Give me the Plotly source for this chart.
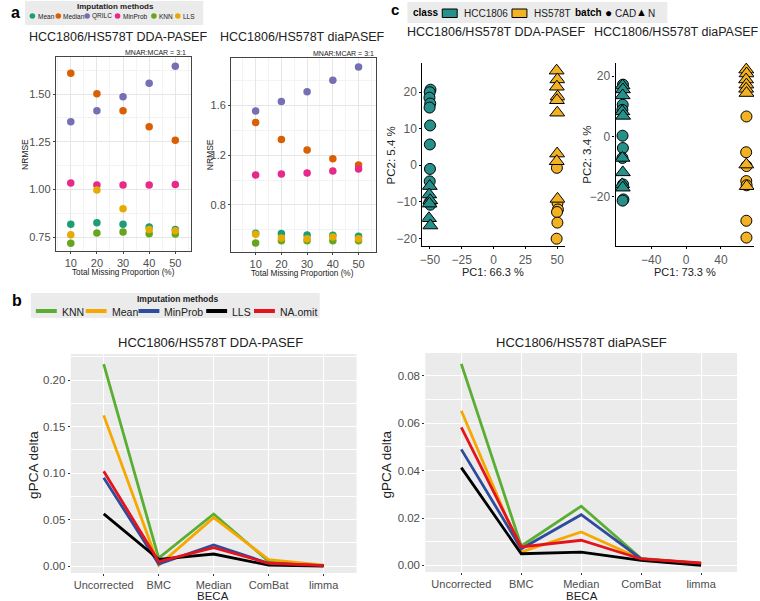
import plotly.graph_objects as go

W, H = 760, 601
FONT = "Liberation Sans, Arial, sans-serif"

# ---------------- Panel a data (NRMSE) ----------------
missing_pct = [10, 20, 30, 40, 50]
a_methods = ["Mean", "Median", "QRILC", "MinProb", "KNN", "LLS"]
a_colors = ["#1B9E77", "#D95F02", "#7570B3", "#E7298A", "#66A61E", "#E6AB02"]

dda_mean = [0.817, 0.825, 0.817, 0.803, 0.790]
dda_median = [1.609, 1.502, 1.412, 1.329, 1.258]
dda_qrilc = [1.355, 1.412, 1.486, 1.556, 1.645]
dda_minprob = [1.034, 1.023, 1.023, 1.023, 1.025]
dda_knn = [0.718, 0.771, 0.776, 0.767, 0.766]
dda_lls = [0.762, 0.997, 0.899, 0.790, 0.783]

dia_mean = [0.572, 0.570, 0.556, 0.554, 0.546]
dia_median = [1.464, 1.327, 1.241, 1.172, 1.121]
dia_qrilc = [1.557, 1.632, 1.712, 1.803, 1.910]
dia_minprob = [1.041, 1.049, 1.057, 1.073, 1.089]
dia_knn = [0.492, 0.511, 0.511, 0.511, 0.511]
dia_lls = [0.564, 0.532, 0.527, 0.540, 0.527]

# ---------------- Panel b data (gPCA delta) ----------------
becas = ["Uncorrected", "BMC", "Median", "ComBat", "limma"]
b_methods = ["KNN", "Mean", "MinProb", "LLS", "NA.omit"]
b_colors = ["#5AAE32", "#F5A800", "#2F4B9E", "#000000", "#E5131B"]

dda_gpca_knn = [0.217, 0.0085, 0.056, 0.005, 0.0005]
dda_gpca_mean = [0.162, 0.0008, 0.052, 0.007, 0.001]
dda_gpca_minprob = [0.095, 0.002, 0.0226, 0.003, 0.0005]
dda_gpca_lls = [0.056, 0.0072, 0.0129, 0.001, 0.0]
dda_gpca_naomit = [0.102, 0.0048, 0.0197, 0.003, 0.0005]

dia_gpca_knn = [0.0851, 0.0082, 0.0250, 0.0029, 0.0008]
dia_gpca_mean = [0.0653, 0.0056, 0.0141, 0.0027, 0.0008]
dia_gpca_minprob = [0.0490, 0.0070, 0.0214, 0.0027, 0.0007]
dia_gpca_lls = [0.0413, 0.0049, 0.0056, 0.0021, 0.0]
dia_gpca_naomit = [0.0583, 0.0078, 0.0106, 0.0027, 0.0010]

# ---------------- Panel c data (PCA) ----------------
class_names = ["HCC1806", "HS578T"]
class_colors = ["#26918A", "#F2B224"]
batch_names = ["CAD", "N"]

dda_hcc_cad_pc1 = [-49.6, -50.2, -50.4, -49.8, -50.3, -49.9, -50.1, -50.0, -50.2, -50.4, -49.7]
dda_hcc_cad_pc2 = [20.7, 20.0, 18.5, 16.9, 15.8, 10.9, 5.7, -1.0, -4.4, -10.2, -10.8]
dda_hcc_n_pc1 = [-50.2, -50.6, -49.8, -50.4, -50.8, -49.7]
dda_hcc_n_pc2 = [-5.7, -8.0, -9.6, -10.5, -14.5, -16.5]
dda_hs_n_pc1 = [49.6, 50.2, 49.8, 50.4, 49.9, 50.1, 50.0, 49.7, 50.3]
dda_hs_n_pc2 = [25.9, 23.5, 21.5, 18.8, 17.8, 14.4, 3.2, 1.1, -9.2]
dda_hs_cad_pc1 = [49.8, 50.3, 50.6, 49.9, 50.2, 49.6]
dda_hs_cad_pc2 = [-0.7, -10.3, -12.1, -12.8, -15.7, -20.1]

dia_hcc_cad_pc1 = [-72.5, -72.8, -73.2, -73.0, -72.6, -73.1, -72.4, -72.0, -72.9]
dia_hcc_cad_pc2 = [17.2, 10.5, 8.8, 0.2, -3.9, -7.2, -16.0, -21.0, -21.4]
dia_hcc_n_pc1 = [-73.0, -72.6, -72.9, -73.3, -72.4, -73.1, -72.7, -73.4, -72.8]
dia_hcc_n_pc2 = [16.9, 15.6, 13.6, 8.3, 6.8, -7.2, -12.0, -16.0, -17.1]
dia_hs_n_pc1 = [69.1, 69.5, 68.9, 69.3, 69.0, 69.4, 69.2, 69.6]
dia_hs_n_pc2 = [22.2, 20.9, 18.9, 17.2, 15.8, 14.4, -9.4, -16.6]
dia_hs_cad_pc1 = [69.3, 69.0, 69.4, 69.1, 69.5, 69.2, 69.3]
dia_hs_cad_pc2 = [6.6, -5.3, -9.9, -14.9, -16.3, -28.1, -33.7]


def px_x(p):
    return p / W


def px_y(p):
    return 1 - p / H


fig = go.Figure()

# ---- panel a traces ----
dda_sets = [dda_mean, dda_median, dda_qrilc, dda_minprob, dda_knn, dda_lls]
dia_sets = [dia_mean, dia_median, dia_qrilc, dia_minprob, dia_knn, dia_lls]
for name, col, vals in zip(a_methods, a_colors, dda_sets):
    fig.add_trace(go.Scatter(x=missing_pct, y=vals, mode="markers", name=name,
                             marker=dict(color=col, size=7.5), showlegend=False,
                             xaxis="x", yaxis="y"))
for name, col, vals in zip(a_methods, a_colors, dia_sets):
    fig.add_trace(go.Scatter(x=missing_pct, y=vals, mode="markers", name=name,
                             marker=dict(color=col, size=7.5), showlegend=False,
                             xaxis="x2", yaxis="y2"))

# ---- panel c traces ----
def pca_trace(xs, ys, cls_idx, symbol, xa, ya):
    return go.Scatter(x=xs, y=ys, mode="markers", showlegend=False,
                      marker=dict(color=class_colors[cls_idx], symbol=symbol,
                                  size=11 if symbol == "circle" else 13,
                                  line=dict(color="black", width=1)),
                      xaxis=xa, yaxis=ya)

fig.add_trace(pca_trace(dda_hcc_cad_pc1, dda_hcc_cad_pc2, 0, "circle", "x3", "y3"))
fig.add_trace(pca_trace(dda_hcc_n_pc1, dda_hcc_n_pc2, 0, "triangle-up", "x3", "y3"))
fig.add_trace(pca_trace(dda_hs_cad_pc1, dda_hs_cad_pc2, 1, "circle", "x3", "y3"))
fig.add_trace(pca_trace(dda_hs_n_pc1, dda_hs_n_pc2, 1, "triangle-up", "x3", "y3"))
fig.add_trace(pca_trace(dia_hcc_cad_pc1, dia_hcc_cad_pc2, 0, "circle", "x4", "y4"))
fig.add_trace(pca_trace(dia_hcc_n_pc1, dia_hcc_n_pc2, 0, "triangle-up", "x4", "y4"))
fig.add_trace(pca_trace(dia_hs_cad_pc1, dia_hs_cad_pc2, 1, "circle", "x4", "y4"))
fig.add_trace(pca_trace(dia_hs_n_pc1, dia_hs_n_pc2, 1, "triangle-up", "x4", "y4"))

# ---- panel b traces ----
dda_b_sets = [dda_gpca_knn, dda_gpca_mean, dda_gpca_minprob, dda_gpca_lls, dda_gpca_naomit]
dia_b_sets = [dia_gpca_knn, dia_gpca_mean, dia_gpca_minprob, dia_gpca_lls, dia_gpca_naomit]
for name, col, vals in zip(b_methods, b_colors, dda_b_sets):
    fig.add_trace(go.Scatter(x=becas, y=vals, mode="lines", name=name, showlegend=False,
                             line=dict(color=col, width=2.8), xaxis="x5", yaxis="y5"))
for name, col, vals in zip(b_methods, b_colors, dia_b_sets):
    fig.add_trace(go.Scatter(x=becas, y=vals, mode="lines", name=name, showlegend=False,
                             line=dict(color=col, width=2.8), xaxis="x6", yaxis="y6"))

TICKF = dict(family=FONT, size=11, color="#4D4D4D")

def bw_axis(domain, rng, tickvals, ticktext, minor_dtick, minor_tick0, anchor):
    return dict(domain=domain, range=rng, tickmode="array", tickvals=tickvals,
                ticktext=ticktext, showline=True, mirror=True, linecolor="#444444",
                linewidth=1, ticks="outside", ticklen=2, tickcolor="#444444",
                showgrid=True, gridcolor="#E6E6E6", gridwidth=0.8, zeroline=False,
                tickfont=TICKF, anchor=anchor,
                minor=dict(showgrid=True, gridcolor="#F3F3F3", gridwidth=0.5,
                           tickmode="linear", dtick=minor_dtick, tick0=minor_tick0, ticks=""))

def classic_axis(domain, rng, tickvals, anchor):
    return dict(domain=domain, range=rng, tickmode="array", tickvals=tickvals,
                showline=True, linecolor="black", linewidth=1.2, ticks="outside",
                ticklen=2, tickcolor="black", showgrid=False, zeroline=False,
                tickfont=dict(family=FONT, size=12, color="#5A5A5A"), anchor=anchor)

def gray_axis(domain, rng, anchor, **kw):
    d = dict(domain=domain, range=rng, showline=False, ticks="outside", ticklen=2,
             tickcolor="#333333", showgrid=True, gridcolor="white", gridwidth=1.2,
             zeroline=False, tickfont=dict(family=FONT, size=11.5, color="#4D4D4D"),
             anchor=anchor)
    d.update(kw)
    return d

a_x_ticks = [10, 20, 30, 40, 50]
layout = dict(
    width=W, height=H, autosize=False,
    margin=dict(l=0, r=0, t=0, b=0),
    paper_bgcolor="white", plot_bgcolor="white",
    font=dict(family=FONT, color="#222222"),
    showlegend=False,
    xaxis=bw_axis([px_x(53), px_x(189)], [4.27, 56.1], a_x_ticks, [str(v) for v in a_x_ticks], 5, 5, "y"),
    yaxis=bw_axis([px_y(251), px_y(57)], [0.677, 1.694], [0.75, 1.0, 1.25, 1.5],
                  ["0.75", "1.00", "1.25", "1.50"], 0.125, 0.625, "x"),
    xaxis2=bw_axis([px_x(229), px_x(374)], [0.45, 56.6], a_x_ticks, [str(v) for v in a_x_ticks], 5, 5, "y2"),
    yaxis2=bw_axis([px_y(252), px_y(58)], [0.42, 1.983], [0.8, 1.2, 1.6],
                   ["0.8", "1.2", "1.6"], 0.2, 0.6, "x2"),
    xaxis3=classic_axis([px_x(421), px_x(564)], [-56, 56], [-50, -25, 0, 25, 50], "y3"),
    yaxis3=classic_axis([px_y(246), px_y(63)], [-22.1, 28.0], [-20, -10, 0, 10, 20], "x3"),
    xaxis4=classic_axis([px_x(615), px_x(754)], [-81, 78], [-40, 0, 40], "y4"),
    yaxis4=classic_axis([px_y(246), px_y(63)], [-36.5, 24.4], [-20, 0, 20], "x4"),
    xaxis5=gray_axis([px_x(68), px_x(355)], [-0.6, 4.6], "y5", type="category",
                     tickfont=dict(family=FONT, size=11, color="#4D4D4D")),
    yaxis5=gray_axis([px_y(573), px_y(354)], [-0.0075, 0.228], "x5", tickmode="array",
                     tickvals=[0, 0.05, 0.1, 0.15, 0.2],
                     ticktext=["0.00", "0.05", "0.10", "0.15", "0.20"],
                     minor=dict(showgrid=True, gridcolor="white", gridwidth=0.5,
                                tickmode="linear", dtick=0.025, tick0=0.025, ticks="")),
    xaxis6=gray_axis([px_x(424), px_x(737)], [-0.6, 4.6], "y6", type="category",
                     tickfont=dict(family=FONT, size=11, color="#4D4D4D")),
    yaxis6=gray_axis([px_y(572), px_y(353)], [-0.0028, 0.0897], "x6", tickmode="array",
                     tickvals=[0, 0.02, 0.04, 0.06, 0.08],
                     ticktext=["0.00", "0.02", "0.04", "0.06", "0.08"],
                     minor=dict(showgrid=True, gridcolor="white", gridwidth=0.5,
                                tickmode="linear", dtick=0.01, tick0=0.01, ticks="")),
)
fig.update_layout(**layout)

shapes = []
# plot backgrounds for panel b (gray panels)
for xa, ya in [("x5", "y5"), ("x6", "y6")]:
    shapes.append(dict(type="rect", xref=f"{xa} domain", yref=f"{ya} domain", x0=0, x1=1, y0=0, y1=1,
                       fillcolor="#EBEBEB", line=dict(width=0), layer="below"))

annotations = []

def ann(text, x, y, size, xanchor="center", yanchor="middle", color="#222222", angle=0, **kw):
    d = dict(text=text, x=px_x(x), y=px_y(y), xref="paper", yref="paper", showarrow=False,
             xanchor=xanchor, yanchor=yanchor, textangle=angle,
             font=dict(family=FONT, size=size, color=color))
    d.update(kw)
    annotations.append(d)

def box(x0, y0, x1, y1, fill="#EBEBEB"):
    shapes.append(dict(type="rect", xref="paper", yref="paper",
                       x0=px_x(x0), x1=px_x(x1), y0=px_y(y1), y1=px_y(y0),
                       fillcolor=fill, line=dict(width=0)))

# panel letters
ann("<b>a</b>", 6, 13, 16, xanchor="left", color="black")
ann("<b>b</b>", 7, 300, 16, xanchor="left", color="black")
ann("<b>c</b>", 388, 10, 15, xanchor="left", color="black")

# titles
ann("HCC1806/HS578T DDA-PASEF", 115, 37, 12.5)
ann("HCC1806/HS578T diaPASEF", 301, 37, 12.5)
ann("HCC1806/HS578T DDA-PASEF", 495, 32, 12.5)
ann("HCC1806/HS578T diaPASEF", 676, 32, 12.5)
ann("HCC1806/HS578T DDA-PASEF", 208, 342, 13)
ann("HCC1806/HS578T diaPASEF", 581, 342, 13)

# MNAR text
ann("MNAR:MCAR = 3:1", 186, 52, 7, xanchor="right")
ann("MNAR:MCAR = 3:1", 374, 53, 7, xanchor="right")

# axis titles panel a
ann("NRMSE", 22, 154, 8.5, angle=-90)
ann("NRMSE", 208, 155, 8.5, angle=-90)
ann("Total Missing Proportion (%)", 121, 272, 8.2)
ann("Total Missing Proportion (%)", 301, 273, 8.2)

# axis titles panel c
ann("PC2: 5.4 %", 390, 155, 11.5, angle=-90)
ann("PC2: 3.4 %", 586, 155, 11.5, angle=-90)
ann("PC1: 66.3 %", 492, 272, 11)
ann("PC1: 73.3 %", 685, 272, 11)

# axis titles panel b
ann("gPCA delta", 30, 465, 13.5, angle=-90)
ann("gPCA delta", 385, 464, 13.5, angle=-90)
ann("BECA", 211, 595.5, 11.5)
ann("BECA", 581, 595.5, 11.5)

# ---- legend a (Imputation methods, dots) ----
box(22, 1, 201, 25)
ann("<b>Imputation methods</b>", 113, 6.5, 8)
leg_a_dot_x = [29.5, 55.5, 84.5, 115, 151.5, 175.5]
for m, c, dx in zip(a_methods, a_colors, leg_a_dot_x):
    shapes.append(dict(type="circle", xref="paper", yref="paper",
                       x0=px_x(dx - 2.8), x1=px_x(dx + 2.8), y0=px_y(16 + 2.8), y1=px_y(16 - 2.8),
                       fillcolor=c, line=dict(width=0)))
    ann(m, dx + 3.2, 16.5, 6.5, xanchor="left", color="#222222")

# ---- legend b (Imputation methods, lines) ----
box(28, 293, 318, 318)
ann("<b>Imputation methods</b>", 175, 299, 8.5)
leg_b_line_x = [33, 83, 136, 204, 252]
for m, c, lx in zip(b_methods, b_colors, leg_b_line_x):
    shapes.append(dict(type="line", xref="paper", yref="paper",
                       x0=px_x(lx), x1=px_x(lx + 21), y0=px_y(311), y1=px_y(311),
                       line=dict(color=c, width=4)))
    ann(m, lx + 24, 311.5, 10.5, xanchor="left", color="#222222")

# ---- legend c (class / batch) ----
box(406, 2, 667, 23)
ann("<b>class</b>", 410, 13, 10, xanchor="left", color="black")
leg_c_rect_x = [441, 511]
leg_c_text_x = [461, 531]
for name, c, rx, tx in zip(class_names, class_colors, leg_c_rect_x, leg_c_text_x):
    shapes.append(dict(type="rect", xref="paper", yref="paper",
                       x0=px_x(rx), x1=px_x(rx + 15), y0=px_y(17.5), y1=px_y(9),
                       fillcolor=c, line=dict(color="black", width=1)))
    ann(name, tx, 13.5, 10, xanchor="left", color="#222222")
ann("<b>batch</b>", 572, 13, 10, xanchor="left", color="black")
ann("●", 602, 13, 12, xanchor="left", color="black")
ann(batch_names[0], 612, 13.5, 10, xanchor="left", color="#222222")
ann("▲", 633, 12.5, 11, xanchor="left", color="black")
ann(batch_names[1], 646, 13.5, 10, xanchor="left", color="#222222")

fig.update_layout(annotations=annotations, shapes=shapes)

fig.write_html("out.html", config={"displayModeBar": False},
               post_script="document.body.style.margin='0px';")
